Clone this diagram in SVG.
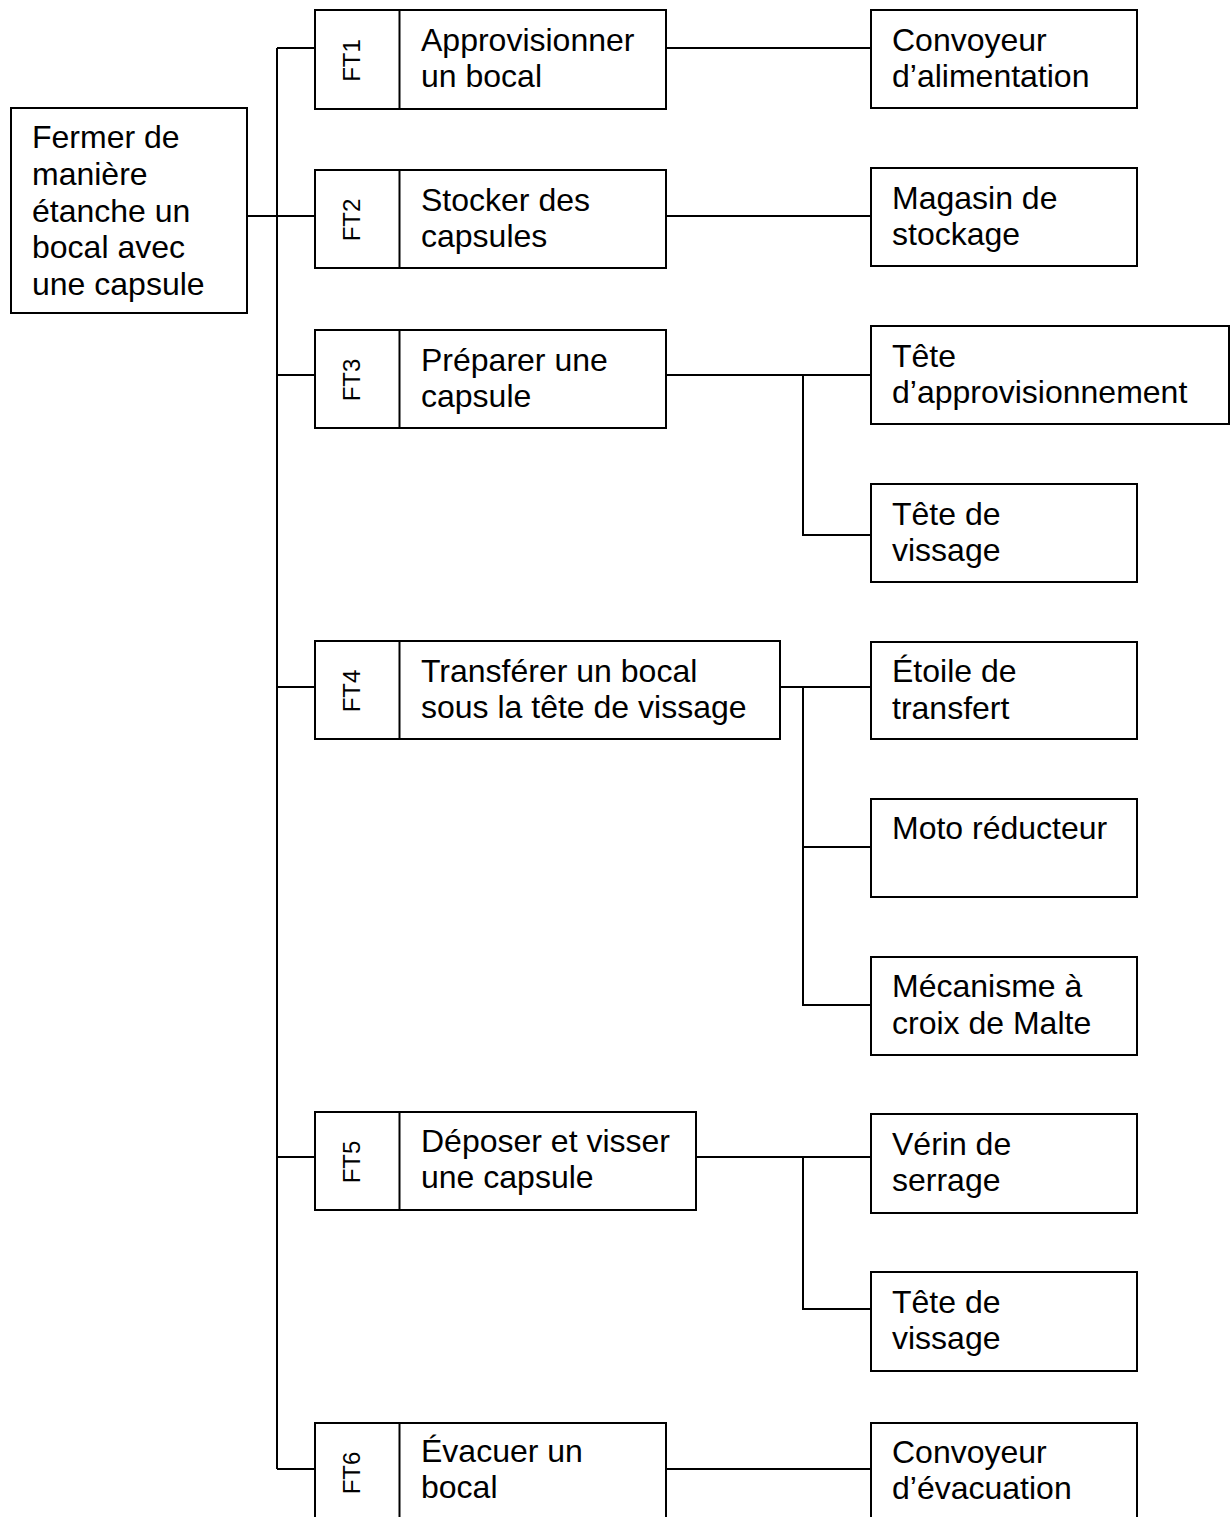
<svg xmlns="http://www.w3.org/2000/svg" width="1232" height="1517" viewBox="0 0 1232 1517">
<style>
  .box { fill: #fff; stroke: #000; stroke-width: 2; }
  .div { stroke: #000; stroke-width: 2; }
  .t { font-family: "Liberation Sans", Arial, sans-serif; font-size: 32px; fill: #000; }
  .ft { font-family: "Liberation Sans", Arial, sans-serif; font-size: 24px; fill: #000; text-anchor: middle; }
  .c { fill: none; stroke: #000; stroke-width: 2; }
</style>
<rect width="1232" height="1517" fill="#fff"/>

<g id="connectors">
  <path class="c" d="M247,216 H315"/>
  <path class="c" d="M277,48 V1469"/>
  <path class="c" d="M277,48 H315"/>
  <path class="c" d="M277,375 H315"/>
  <path class="c" d="M277,687 H315"/>
  <path class="c" d="M277,1157 H315"/>
  <path class="c" d="M277,1469 H315"/>
  <path class="c" d="M666,48 H871"/>
  <path class="c" d="M666,216 H871"/>
  <path class="c" d="M666,375 H871"/>
  <path class="c" d="M803,375 V535 H871"/>
  <path class="c" d="M780,687 H871"/>
  <path class="c" d="M803,687 V1005 H871"/>
  <path class="c" d="M803,847 H871"/>
  <path class="c" d="M696,1157 H871"/>
  <path class="c" d="M803,1157 V1309 H871"/>
  <path class="c" d="M666,1469 H871"/>
</g>

<g id="root">
  <rect class="box" x="11" y="108" width="236" height="205"/>
  <text class="t" x="32" y="148">Fermer de</text>
  <text class="t" x="32" y="185">manière</text>
  <text class="t" x="32" y="222">étanche un</text>
  <text class="t" x="32" y="258">bocal avec</text>
  <text class="t" x="32" y="295">une capsule</text>
</g>

<g id="ft1">
  <rect class="box" x="315" y="10" width="351" height="99"/>
  <line class="div" x1="399.5" y1="10" x2="399.5" y2="109"/>
  <text class="ft" transform="translate(360,60.5) rotate(-90)">FT1</text>
  <text class="t" x="421" y="51">Approvisionner</text>
  <text class="t" x="421" y="87">un bocal</text>
</g>

<g id="ft2">
  <rect class="box" x="315" y="170" width="351" height="98"/>
  <line class="div" x1="399.5" y1="170" x2="399.5" y2="268"/>
  <text class="ft" transform="translate(360,220) rotate(-90)">FT2</text>
  <text class="t" x="421" y="210.5">Stocker des</text>
  <text class="t" x="421" y="247">capsules</text>
</g>

<g id="ft3">
  <rect class="box" x="315" y="330" width="351" height="98"/>
  <line class="div" x1="399.5" y1="330" x2="399.5" y2="428"/>
  <text class="ft" transform="translate(360,380) rotate(-90)">FT3</text>
  <text class="t" x="421" y="370.5">Préparer une</text>
  <text class="t" x="421" y="407">capsule</text>
</g>

<g id="ft4">
  <rect class="box" x="315" y="641" width="465" height="98"/>
  <line class="div" x1="399.5" y1="641" x2="399.5" y2="739"/>
  <text class="ft" transform="translate(360,691) rotate(-90)">FT4</text>
  <text class="t" x="421" y="681.5">Transférer un bocal</text>
  <text class="t" x="421" y="718">sous la tête de vissage</text>
</g>

<g id="ft5">
  <rect class="box" x="315" y="1112" width="381" height="98"/>
  <line class="div" x1="399.5" y1="1112" x2="399.5" y2="1210"/>
  <text class="ft" transform="translate(360,1162) rotate(-90)">FT5</text>
  <text class="t" x="421" y="1152">Déposer et visser</text>
  <text class="t" x="421" y="1188">une capsule</text>
</g>

<g id="ft6">
  <rect class="box" x="315" y="1423" width="351" height="98"/>
  <line class="div" x1="399.5" y1="1423" x2="399.5" y2="1521"/>
  <text class="ft" transform="translate(360,1473) rotate(-90)">FT6</text>
  <text class="t" x="421" y="1462">Évacuer un</text>
  <text class="t" x="421" y="1498">bocal</text>
</g>

<g id="convoyeur-alimentation">
  <rect class="box" x="871" y="10" width="266" height="98"/>
  <text class="t" x="892" y="50.5">Convoyeur</text>
  <text class="t" x="892" y="87">d’alimentation</text>
</g>

<g id="magasin-stockage">
  <rect class="box" x="871" y="168" width="266" height="98"/>
  <text class="t" x="892" y="208.5">Magasin de</text>
  <text class="t" x="892" y="245">stockage</text>
</g>

<g id="tete-approvisionnement">
  <rect class="box" x="871" y="326" width="358" height="98"/>
  <text class="t" x="892" y="366.5">Tête</text>
  <text class="t" x="892" y="403">d’approvisionnement</text>
</g>

<g id="tete-vissage-1">
  <rect class="box" x="871" y="484" width="266" height="98"/>
  <text class="t" x="892" y="524.5">Tête de</text>
  <text class="t" x="892" y="561">vissage</text>
</g>

<g id="etoile-transfert">
  <rect class="box" x="871" y="642" width="266" height="97"/>
  <text class="t" x="892" y="682">Étoile de</text>
  <text class="t" x="892" y="718.5">transfert</text>
</g>

<g id="moto-reducteur">
  <rect class="box" x="871" y="799" width="266" height="98"/>
  <text class="t" x="892" y="839">Moto réducteur</text>
</g>

<g id="mecanisme-malte">
  <rect class="box" x="871" y="957" width="266" height="98"/>
  <text class="t" x="892" y="997">Mécanisme à</text>
  <text class="t" x="892" y="1034">croix de Malte</text>
</g>

<g id="verin-serrage">
  <rect class="box" x="871" y="1114" width="266" height="99"/>
  <text class="t" x="892" y="1155">Vérin de</text>
  <text class="t" x="892" y="1191">serrage</text>
</g>

<g id="tete-vissage-2">
  <rect class="box" x="871" y="1272" width="266" height="99"/>
  <text class="t" x="892" y="1313">Tête de</text>
  <text class="t" x="892" y="1349">vissage</text>
</g>

<g id="convoyeur-evacuation">
  <rect class="box" x="871" y="1423" width="266" height="98"/>
  <text class="t" x="892" y="1463">Convoyeur</text>
  <text class="t" x="892" y="1499">d’évacuation</text>
</g>
</svg>
